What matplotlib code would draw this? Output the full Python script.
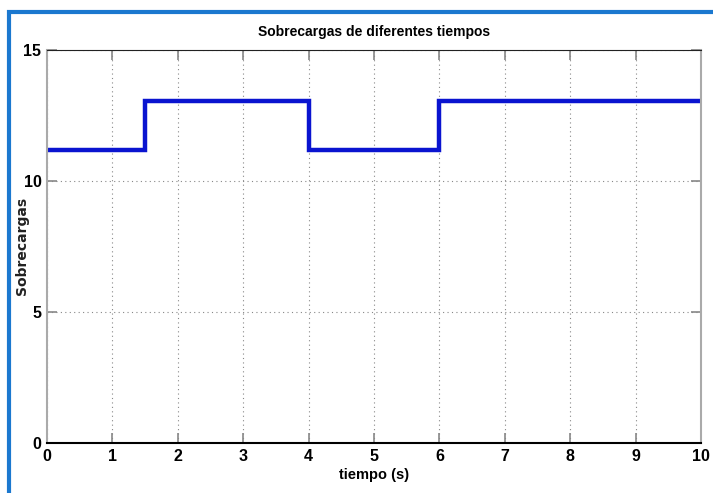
import matplotlib
matplotlib.use("Agg")
import matplotlib.pyplot as plt
from matplotlib.patches import Rectangle

t = [0, 1.5, 1.5, 4, 4, 6, 6, 10]
carga = [11.2, 11.2, 13.05, 13.05, 11.2, 11.2, 13.05, 13.05]
xticks = list(range(0, 11))
yticks = [0, 5, 10, 15]

fig = plt.figure(figsize=(7.13, 4.93), dpi=100)
fam = ['Liberation Sans', 'DejaVu Sans']

# blue frame
fig.patches.append(Rectangle((8.5/713, -0.1), 1.2, 1 - 11.5/493 + 0.1, transform=fig.transFigure,
                             fill=False, edgecolor='#1b78cf', linewidth=3.0, zorder=0))

W, H = 713, 493
ax = fig.add_axes([47/W, 1 - 443/H, (701-47)/W, (443-50)/H])
ax.plot(t, carga, color='#0a14d0', linewidth=3.2, solid_joinstyle='miter')
ax.set_xlim(0, 10)
ax.set_ylim(0, 15)
ax.set_xticks(xticks)
ax.set_yticks(yticks)
ax.grid(True, linestyle=(0, (1, 3)), color='#888888', linewidth=0.8)
ax.tick_params(direction='in', length=7, width=1.2, color='#888888', top=True, right=True,
               labelsize=11.5, pad=4)
for lab in ax.get_xticklabels() + ax.get_yticklabels():
    lab.set_family(fam)
    lab.set_fontweight('bold')
ax.spines['left'].set_color('#aaaaaa')
ax.spines['right'].set_color('#aaaaaa')
ax.spines['left'].set_linewidth(1.5)
ax.spines['right'].set_linewidth(1.5)
ax.spines['top'].set_color('#222222')
ax.spines['bottom'].set_color('#000000')
ax.spines['bottom'].set_linewidth(1.5)

ax.set_title('Sobrecargas de diferentes tiempos', family=fam, fontsize=10, fontweight='bold', pad=10)
ax.set_xlabel('tiempo (s)', family=fam, fontsize=10.5, fontweight='bold', labelpad=3)
fig.text(22/W, 1 - 246/H, 'Sobrecargas', family=['DejaVu Sans'], fontsize=10, fontweight='bold',
         rotation=90, ha='center', va='center', color='#222222')

fig.savefig('out.png', dpi=100)
